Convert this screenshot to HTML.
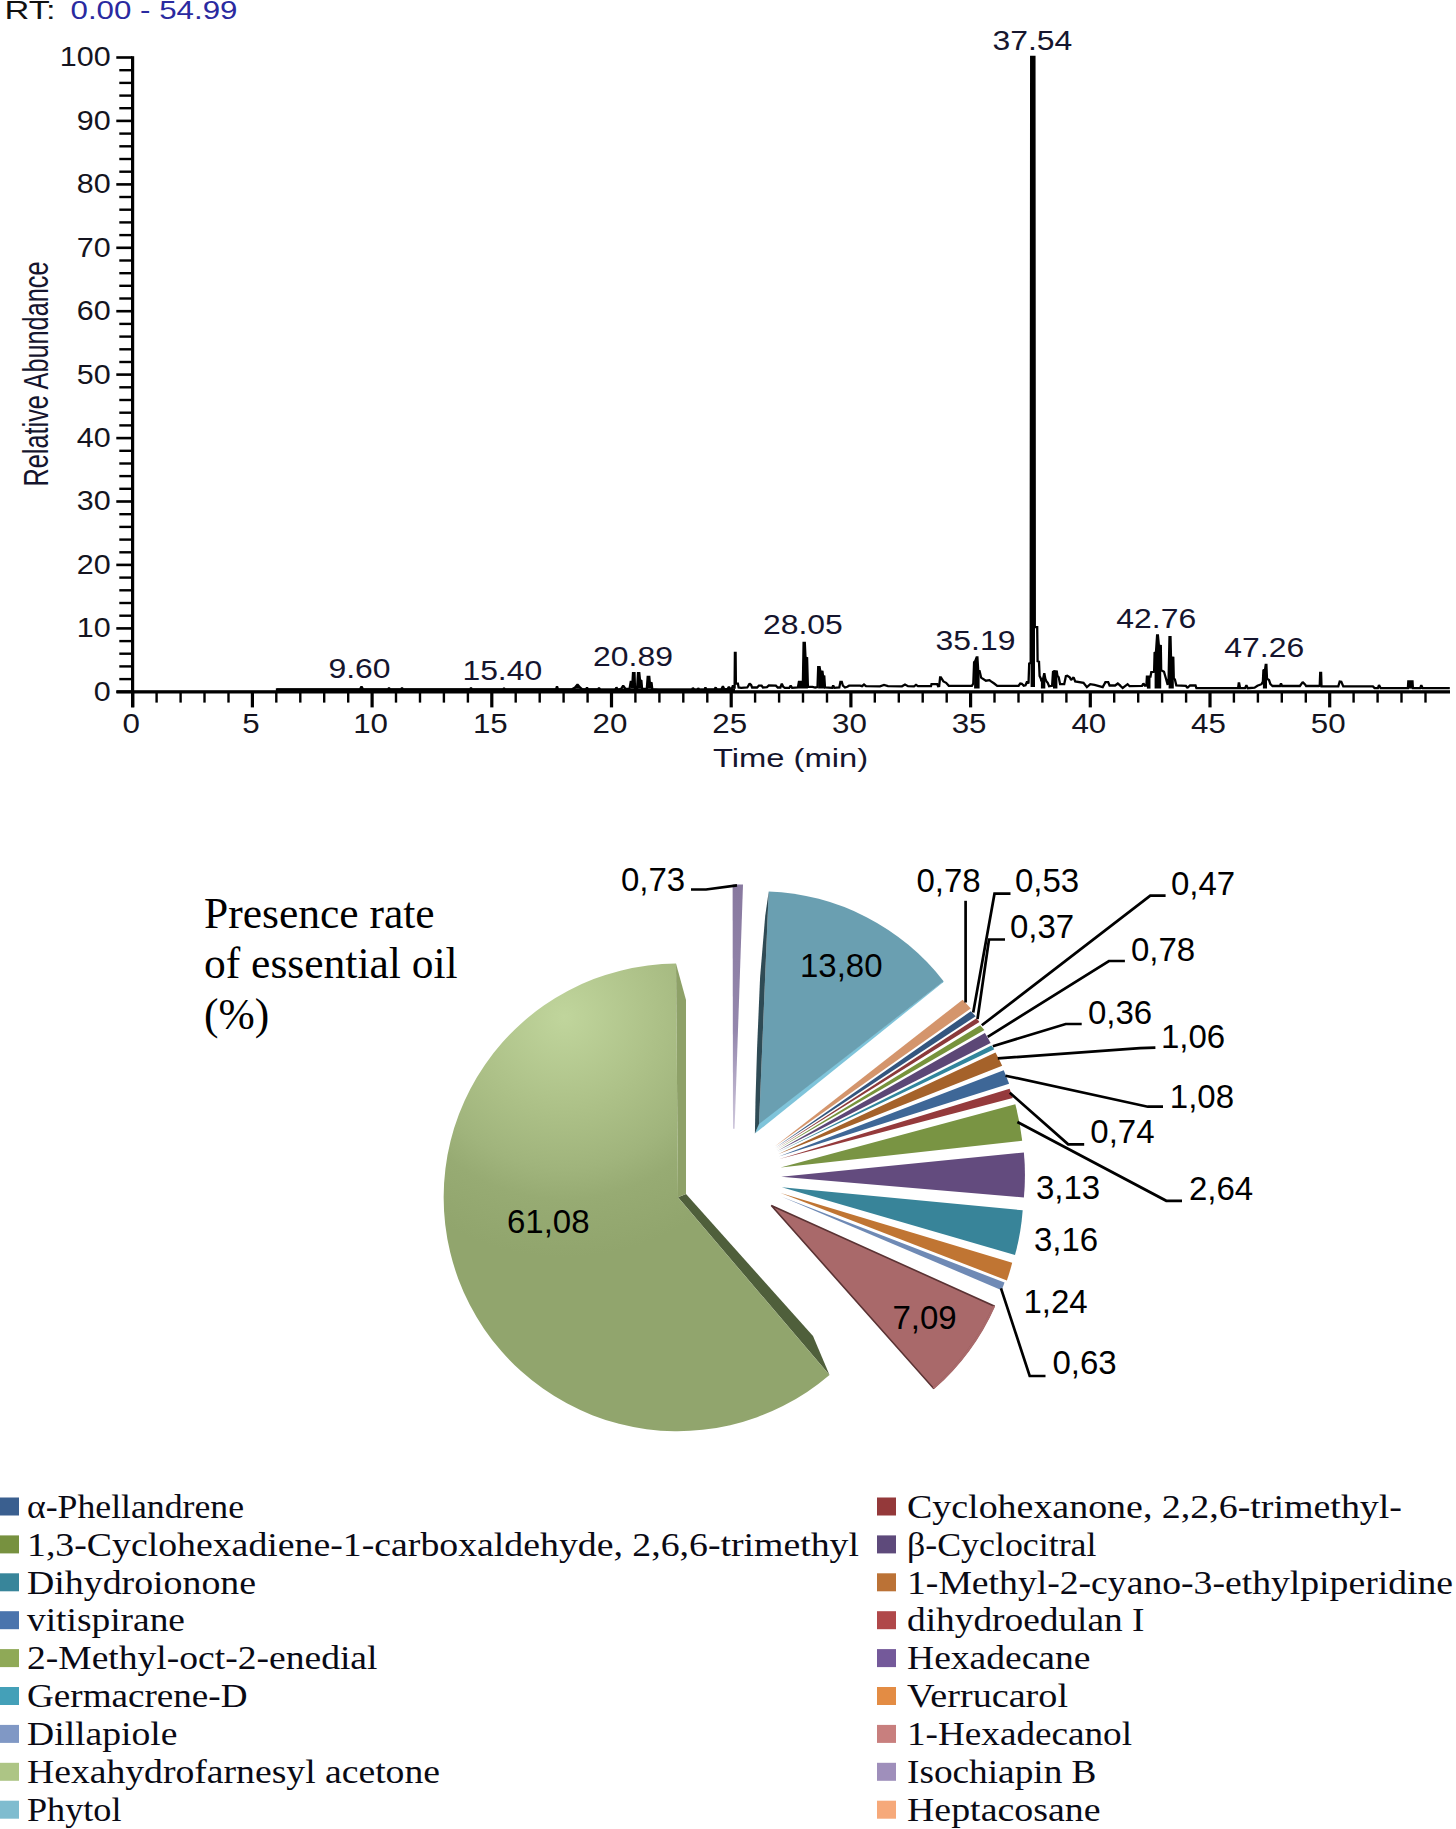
<!DOCTYPE html>
<html lang="en"><head><meta charset="utf-8"><title>GC-MS chromatogram and essential oil composition</title>
<style>
html,body{margin:0;padding:0;background:#fff;}
body{width:1456px;height:1829px;overflow:hidden;position:relative;}
svg{position:absolute;left:0;top:0;display:block;}
.ax{font-family:"Liberation Sans",sans-serif;font-size:27px;fill:#141420;}
.pk{font-family:"Liberation Sans",sans-serif;font-size:28.5px;fill:#15152e;}
.rt{font-family:"Liberation Sans",sans-serif;font-size:26px;}
.axt{font-family:"Liberation Sans",sans-serif;font-size:26px;fill:#15152e;}
.lg{font-family:"Liberation Serif",serif;font-size:33px;fill:#0a0a14;}
.pl{font-family:"Liberation Sans",sans-serif;font-size:33px;fill:#000;}
.ti{font-family:"Liberation Serif",serif;font-size:43.5px;fill:#000;}
</style></head><body>
<svg width="1456" height="1829" viewBox="0 0 1456 1829">
<rect x="131" y="56.2" width="3.2" height="651" fill="#000"/>
<rect x="116.5" y="690.2" width="1333.5" height="3.3" fill="#000"/>
<rect x="116.3" y="690.5" width="16" height="2.6" fill="#000"/>
<rect x="119.3" y="677.9" width="13" height="2.4" fill="#000"/>
<rect x="119.3" y="665.2" width="13" height="2.4" fill="#000"/>
<rect x="119.3" y="652.5" width="13" height="2.4" fill="#000"/>
<rect x="119.3" y="639.9" width="13" height="2.4" fill="#000"/>
<rect x="116.3" y="627.1" width="16" height="2.6" fill="#000"/>
<rect x="119.3" y="614.5" width="13" height="2.4" fill="#000"/>
<rect x="119.3" y="601.8" width="13" height="2.4" fill="#000"/>
<rect x="119.3" y="589.1" width="13" height="2.4" fill="#000"/>
<rect x="119.3" y="576.4" width="13" height="2.4" fill="#000"/>
<rect x="116.3" y="563.6" width="16" height="2.6" fill="#000"/>
<rect x="119.3" y="551.1" width="13" height="2.4" fill="#000"/>
<rect x="119.3" y="538.4" width="13" height="2.4" fill="#000"/>
<rect x="119.3" y="525.7" width="13" height="2.4" fill="#000"/>
<rect x="119.3" y="513.0" width="13" height="2.4" fill="#000"/>
<rect x="116.3" y="500.2" width="16" height="2.6" fill="#000"/>
<rect x="119.3" y="487.6" width="13" height="2.4" fill="#000"/>
<rect x="119.3" y="474.9" width="13" height="2.4" fill="#000"/>
<rect x="119.3" y="462.3" width="13" height="2.4" fill="#000"/>
<rect x="119.3" y="449.6" width="13" height="2.4" fill="#000"/>
<rect x="116.3" y="436.8" width="16" height="2.6" fill="#000"/>
<rect x="119.3" y="424.2" width="13" height="2.4" fill="#000"/>
<rect x="119.3" y="411.5" width="13" height="2.4" fill="#000"/>
<rect x="119.3" y="398.8" width="13" height="2.4" fill="#000"/>
<rect x="119.3" y="386.1" width="13" height="2.4" fill="#000"/>
<rect x="116.3" y="373.3" width="16" height="2.6" fill="#000"/>
<rect x="119.3" y="360.8" width="13" height="2.4" fill="#000"/>
<rect x="119.3" y="348.1" width="13" height="2.4" fill="#000"/>
<rect x="119.3" y="335.4" width="13" height="2.4" fill="#000"/>
<rect x="119.3" y="322.7" width="13" height="2.4" fill="#000"/>
<rect x="116.3" y="309.9" width="16" height="2.6" fill="#000"/>
<rect x="119.3" y="297.3" width="13" height="2.4" fill="#000"/>
<rect x="119.3" y="284.6" width="13" height="2.4" fill="#000"/>
<rect x="119.3" y="272.0" width="13" height="2.4" fill="#000"/>
<rect x="119.3" y="259.3" width="13" height="2.4" fill="#000"/>
<rect x="116.3" y="246.5" width="16" height="2.6" fill="#000"/>
<rect x="119.3" y="233.9" width="13" height="2.4" fill="#000"/>
<rect x="119.3" y="221.2" width="13" height="2.4" fill="#000"/>
<rect x="119.3" y="208.5" width="13" height="2.4" fill="#000"/>
<rect x="119.3" y="195.8" width="13" height="2.4" fill="#000"/>
<rect x="116.3" y="183.1" width="16" height="2.6" fill="#000"/>
<rect x="119.3" y="170.5" width="13" height="2.4" fill="#000"/>
<rect x="119.3" y="157.8" width="13" height="2.4" fill="#000"/>
<rect x="119.3" y="145.1" width="13" height="2.4" fill="#000"/>
<rect x="119.3" y="132.4" width="13" height="2.4" fill="#000"/>
<rect x="116.3" y="119.6" width="16" height="2.6" fill="#000"/>
<rect x="119.3" y="107.0" width="13" height="2.4" fill="#000"/>
<rect x="119.3" y="94.4" width="13" height="2.4" fill="#000"/>
<rect x="119.3" y="81.7" width="13" height="2.4" fill="#000"/>
<rect x="119.3" y="69.0" width="13" height="2.4" fill="#000"/>
<rect x="116.3" y="56.2" width="16" height="2.6" fill="#000"/>
<rect x="131.1" y="691" width="3.2" height="16.4" fill="#000"/>
<rect x="155.4" y="691" width="2.4" height="11.6" fill="#000"/>
<rect x="179.4" y="691" width="2.4" height="11.6" fill="#000"/>
<rect x="203.3" y="691" width="2.4" height="11.6" fill="#000"/>
<rect x="227.3" y="691" width="2.4" height="11.6" fill="#000"/>
<rect x="250.8" y="691" width="3.2" height="16.4" fill="#000"/>
<rect x="275.1" y="691" width="2.4" height="11.6" fill="#000"/>
<rect x="299.1" y="691" width="2.4" height="11.6" fill="#000"/>
<rect x="323.0" y="691" width="2.4" height="11.6" fill="#000"/>
<rect x="347.0" y="691" width="2.4" height="11.6" fill="#000"/>
<rect x="370.5" y="691" width="3.2" height="16.4" fill="#000"/>
<rect x="394.8" y="691" width="2.4" height="11.6" fill="#000"/>
<rect x="418.8" y="691" width="2.4" height="11.6" fill="#000"/>
<rect x="442.7" y="691" width="2.4" height="11.6" fill="#000"/>
<rect x="466.7" y="691" width="2.4" height="11.6" fill="#000"/>
<rect x="490.2" y="691" width="3.2" height="16.4" fill="#000"/>
<rect x="514.5" y="691" width="2.4" height="11.6" fill="#000"/>
<rect x="538.5" y="691" width="2.4" height="11.6" fill="#000"/>
<rect x="562.4" y="691" width="2.4" height="11.6" fill="#000"/>
<rect x="586.4" y="691" width="2.4" height="11.6" fill="#000"/>
<rect x="609.9" y="691" width="3.2" height="16.4" fill="#000"/>
<rect x="634.2" y="691" width="2.4" height="11.6" fill="#000"/>
<rect x="658.2" y="691" width="2.4" height="11.6" fill="#000"/>
<rect x="682.1" y="691" width="2.4" height="11.6" fill="#000"/>
<rect x="706.1" y="691" width="2.4" height="11.6" fill="#000"/>
<rect x="729.6" y="691" width="3.2" height="16.4" fill="#000"/>
<rect x="753.9" y="691" width="2.4" height="11.6" fill="#000"/>
<rect x="777.9" y="691" width="2.4" height="11.6" fill="#000"/>
<rect x="801.8" y="691" width="2.4" height="11.6" fill="#000"/>
<rect x="825.8" y="691" width="2.4" height="11.6" fill="#000"/>
<rect x="849.3" y="691" width="3.2" height="16.4" fill="#000"/>
<rect x="873.6" y="691" width="2.4" height="11.6" fill="#000"/>
<rect x="897.6" y="691" width="2.4" height="11.6" fill="#000"/>
<rect x="921.5" y="691" width="2.4" height="11.6" fill="#000"/>
<rect x="945.5" y="691" width="2.4" height="11.6" fill="#000"/>
<rect x="969.0" y="691" width="3.2" height="16.4" fill="#000"/>
<rect x="993.3" y="691" width="2.4" height="11.6" fill="#000"/>
<rect x="1017.3" y="691" width="2.4" height="11.6" fill="#000"/>
<rect x="1041.2" y="691" width="2.4" height="11.6" fill="#000"/>
<rect x="1065.2" y="691" width="2.4" height="11.6" fill="#000"/>
<rect x="1088.7" y="691" width="3.2" height="16.4" fill="#000"/>
<rect x="1113.0" y="691" width="2.4" height="11.6" fill="#000"/>
<rect x="1137.0" y="691" width="2.4" height="11.6" fill="#000"/>
<rect x="1160.9" y="691" width="2.4" height="11.6" fill="#000"/>
<rect x="1184.9" y="691" width="2.4" height="11.6" fill="#000"/>
<rect x="1208.4" y="691" width="3.2" height="16.4" fill="#000"/>
<rect x="1232.7" y="691" width="2.4" height="11.6" fill="#000"/>
<rect x="1256.7" y="691" width="2.4" height="11.6" fill="#000"/>
<rect x="1280.6" y="691" width="2.4" height="11.6" fill="#000"/>
<rect x="1304.6" y="691" width="2.4" height="11.6" fill="#000"/>
<rect x="1328.1" y="691" width="3.2" height="16.4" fill="#000"/>
<rect x="1352.4" y="691" width="2.4" height="11.6" fill="#000"/>
<rect x="1376.4" y="691" width="2.4" height="11.6" fill="#000"/>
<rect x="1400.3" y="691" width="2.4" height="11.6" fill="#000"/>
<rect x="1424.3" y="691" width="2.4" height="11.6" fill="#000"/>
<text transform="translate(110.6,700.7) scale(1.13,1)" text-anchor="end" class="ax">0</text>
<text transform="translate(110.6,637.3) scale(1.13,1)" text-anchor="end" class="ax">10</text>
<text transform="translate(110.6,573.8) scale(1.13,1)" text-anchor="end" class="ax">20</text>
<text transform="translate(110.6,510.4) scale(1.13,1)" text-anchor="end" class="ax">30</text>
<text transform="translate(110.6,447.0) scale(1.13,1)" text-anchor="end" class="ax">40</text>
<text transform="translate(110.6,383.5) scale(1.13,1)" text-anchor="end" class="ax">50</text>
<text transform="translate(110.6,320.1) scale(1.13,1)" text-anchor="end" class="ax">60</text>
<text transform="translate(110.6,256.7) scale(1.13,1)" text-anchor="end" class="ax">70</text>
<text transform="translate(110.6,193.3) scale(1.13,1)" text-anchor="end" class="ax">80</text>
<text transform="translate(110.6,129.8) scale(1.13,1)" text-anchor="end" class="ax">90</text>
<text transform="translate(110.6,66.4) scale(1.13,1)" text-anchor="end" class="ax">100</text>
<text transform="translate(131.2,733.3) scale(1.16,1)" text-anchor="middle" class="ax">0</text>
<text transform="translate(250.9,733.3) scale(1.16,1)" text-anchor="middle" class="ax">5</text>
<text transform="translate(370.6,733.3) scale(1.16,1)" text-anchor="middle" class="ax">10</text>
<text transform="translate(490.3,733.3) scale(1.16,1)" text-anchor="middle" class="ax">15</text>
<text transform="translate(610.0,733.3) scale(1.16,1)" text-anchor="middle" class="ax">20</text>
<text transform="translate(729.7,733.3) scale(1.16,1)" text-anchor="middle" class="ax">25</text>
<text transform="translate(849.4,733.3) scale(1.16,1)" text-anchor="middle" class="ax">30</text>
<text transform="translate(969.1,733.3) scale(1.16,1)" text-anchor="middle" class="ax">35</text>
<text transform="translate(1088.8,733.3) scale(1.16,1)" text-anchor="middle" class="ax">40</text>
<text transform="translate(1208.5,733.3) scale(1.16,1)" text-anchor="middle" class="ax">45</text>
<text transform="translate(1328.2,733.3) scale(1.16,1)" text-anchor="middle" class="ax">50</text>
<rect x="277" y="688.4" width="458" height="3.5" fill="#000"/>
<path d="M277.0,691.0 L277.0,689.4 L360.0,689.4 L361.5,686.6 L363.0,689.4 L388.0,689.4 L389.0,688.0 L390.0,689.4 L401.0,689.4 L402.0,688.0 L403.0,689.4 L470.0,689.4 L471.0,688.0 L472.0,689.4 L503.0,689.4 L504.0,688.2 L505.0,689.4 L556.0,689.4 L557.0,686.3 L558.0,689.4 L572.0,689.2 L575.0,687.5 L577.5,684.6 L580.0,687.5 L582.0,689.2 L586.0,689.3 L587.0,687.6 L588.0,689.3 L598.0,689.3 L599.0,687.8 L600.0,689.3 L600.0,689.8 L615.2,689.8 L616.4,687.5 L617.9,689.8 L621.1,688.9 L623.2,685.7 L625.4,688.6 L629.5,688.9 L630.7,681.8 L632.5,681.8 L633.0,673.2 L634.5,673.2 L635.0,688.9 L637.1,688.9 L638.0,673.2 L639.3,673.2 L640.0,680.0 L641.4,680.9 L642.1,688.9 L646.8,688.9 L647.7,676.8 L649.3,676.8 L649.8,682.7 L651.6,683.2 L652.3,689.3 L658.9,689.8 L692.0,689.8 L692.9,688.0 L694.3,689.8 L697.3,689.8 L698.2,688.2 L699.3,689.8 L704.5,689.8 L705.4,687.5 L706.4,689.6 L714.3,689.6 L715.7,687.5 L717.0,689.6 L721.4,689.3 L722.9,686.2 L724.3,689.3 L727.7,688.9 L728.9,686.8 L730.4,688.9 L732.1,688.0 L733.0,685.4 L733.9,687.5 L734.6,687.5 L734.9,652.9 L735.6,652.9 L735.9,683.6 L737.9,683.6 L738.6,687.5 L741.1,687.9 L747.3,687.5 L749.6,683.6 L751.1,685.0 L752.1,687.5 L757.1,687.5 L758.9,685.7 L761.6,685.7 L762.9,687.5 L767.0,687.1 L768.8,685.4 L775.9,685.7 L777.7,687.5 L780.4,687.5 L781.8,683.6 L783.2,686.8 L784.8,687.9 L789.3,687.9 L790.7,685.7 L792.1,687.9 L797.9,687.5 L798.9,681.8 L802.9,681.8 L803.6,642.9 L804.8,642.9 L805.5,657.7 L807.1,658.2 L807.9,686.8 L812.5,686.8 L815.2,687.5 L817.5,687.1 L818.2,667.1 L819.6,667.1 L820.4,671.4 L822.5,671.8 L823.0,676.1 L824.3,676.4 L825.0,687.5 L832.1,687.9 L833.2,685.4 L834.3,687.9 L839.3,687.5 L840.4,681.8 L841.8,681.8 L842.9,685.7 L845.0,687.5 L847.3,686.8 L849.1,685.7 L860.0,685.7 L862.0,686.2 L864.0,684.5 L866.0,686.2 L880.0,686.3 L884.0,685.0 L888.0,686.2 L902.0,686.3 L905.0,684.6 L908.0,686.2 L914.0,686.3 L916.0,684.8 L918.0,686.2 L920.0,686.2 L931.0,686.2 L931.5,684.2 L937.2,684.2 L938.1,686.2 L939.2,686.0 L940.1,677.3 L940.9,677.3 L943.4,681.4 L946.1,682.8 L948.8,685.8 L971.9,685.8 L973.3,683.5 L974.1,662.2 L975.2,661.1 L976.6,657.4 L977.4,657.4 L978.2,670.4 L979.6,671.1 L981.1,677.6 L985.9,680.7 L989.4,680.1 L990.7,681.2 L994.2,683.5 L997.2,685.8 L1018.6,685.8 L1020.3,683.5 L1021.9,683.8 L1023.7,685.8 L1025.5,685.3 L1027.1,681.4 L1028.5,683.5 L1029.2,663.6 L1030.7,662.9 L1031.2,57.0 L1034.4,57.0 L1034.8,627.2 L1037.2,627.2 L1037.6,661.1 L1039.0,661.6 L1039.6,675.9 L1040.9,678.7 L1041.4,681.4 L1043.1,678.7 L1044.3,673.2 L1045.3,678.7 L1046.4,681.4 L1047.7,682.8 L1049.1,686.2 L1052.1,685.8 L1053.0,671.8 L1054.1,671.1 L1056.8,671.5 L1057.4,675.9 L1058.7,677.3 L1060.1,684.2 L1064.2,684.2 L1065.9,676.2 L1067.3,675.7 L1069.7,677.3 L1071.1,680.1 L1073.6,677.3 L1075.2,681.4 L1083.5,682.8 L1086.9,687.2 L1090.3,684.2 L1094.5,684.9 L1102.7,687.2 L1105.4,682.1 L1108.2,682.1 L1109.6,685.5 L1115.1,685.5 L1117.8,683.5 L1120.0,685.3 L1120.0,685.5 L1122.7,687.9 L1127.6,684.2 L1129.6,686.2 L1142.0,685.8 L1143.4,683.5 L1144.7,685.5 L1146.4,685.5 L1146.9,676.6 L1150.5,676.6 L1151.3,672.1 L1154.1,671.8 L1154.6,652.9 L1156.0,651.9 L1157.1,635.4 L1157.9,635.4 L1158.9,645.7 L1160.8,646.0 L1161.2,670.4 L1164.0,671.8 L1166.0,678.7 L1167.7,684.9 L1168.6,678.7 L1169.5,637.2 L1170.5,637.2 L1171.0,657.4 L1173.3,657.8 L1173.8,678.7 L1174.9,679.4 L1176.3,685.3 L1185.9,685.8 L1187.3,687.9 L1190.1,685.5 L1195.5,685.5 L1196.4,688.2 L1238.1,688.2 L1238.7,683.5 L1239.2,683.5 L1240.1,688.2 L1245.0,688.2 L1246.4,685.3 L1247.7,688.2 L1254.6,687.7 L1257.4,685.8 L1261.5,684.2 L1262.9,681.4 L1263.4,670.4 L1265.1,669.3 L1265.7,664.9 L1266.4,664.9 L1267.0,678.7 L1269.0,680.1 L1270.4,684.2 L1272.5,686.0 L1280.0,686.0 L1281.0,683.5 L1282.1,686.0 L1299.9,686.0 L1302.7,682.1 L1304.8,684.2 L1306.1,686.0 L1319.2,686.0 L1319.7,686.4 L1320.2,673.0 L1321.1,673.0 L1321.5,686.4 L1338.3,686.4 L1339.7,681.5 L1341.3,681.8 L1343.3,686.4 L1372.9,686.4 L1374.6,688.1 L1377.9,688.1 L1379.0,685.1 L1380.6,688.1 L1407.9,688.1 L1408.3,681.5 L1412.5,681.5 L1412.9,688.1 L1420.2,688.1 L1421.3,685.1 L1422.6,688.1 L1449.8,688.1" fill="none" stroke="#000" stroke-width="2.3" stroke-linejoin="miter" stroke-miterlimit="1.5"/>
<rect x="1030.6" y="56" width="4.4" height="631" fill="#000"/>
<polygon points="575.0,688.6 575.0,687.5 577.5,684.6 580.0,687.5 582.0,689.2 582.0,688.6" fill="#000"/>
<polygon points="630.7,688.6 630.7,681.8 632.5,681.8 633.0,673.2 634.5,673.2 635.0,688.9 635.0,688.6" fill="#000"/>
<polygon points="638.0,688.6 638.0,673.2 639.3,673.2 640.0,680.0 641.4,680.9 642.1,688.9 642.1,688.6" fill="#000"/>
<polygon points="647.7,688.6 647.7,676.8 649.3,676.8 649.8,682.7 651.6,683.2 652.3,689.3 652.3,688.6" fill="#000"/>
<polygon points="798.9,688.6 798.9,681.8 802.9,681.8 803.6,642.9 804.8,642.9 805.5,657.7 807.1,658.2 807.9,686.8 807.9,688.6" fill="#000"/>
<polygon points="818.2,688.6 818.2,667.1 819.6,667.1 820.4,671.4 822.5,671.8 823.0,676.1 824.3,676.4 825.0,687.5 825.0,688.6" fill="#000"/>
<polygon points="974.1,688.6 974.1,662.2 975.2,661.1 976.6,657.4 977.4,657.4 978.2,670.4 979.6,671.1 979.6,688.6" fill="#000"/>
<polygon points="1040.9,688.6 1040.9,678.7 1041.4,681.4 1043.1,678.7 1044.3,673.2 1045.3,678.7 1045.3,688.6" fill="#000"/>
<polygon points="1053.0,688.6 1053.0,671.8 1054.1,671.1 1056.8,671.5 1057.4,675.9 1057.4,688.6" fill="#000"/>
<polygon points="1146.9,688.6 1146.9,676.6 1150.5,676.6 1150.5,688.6" fill="#000"/>
<polygon points="1154.6,688.6 1154.6,652.9 1156.0,651.9 1157.1,635.4 1157.9,635.4 1158.9,645.7 1160.8,646.0 1161.2,670.4 1161.2,688.6" fill="#000"/>
<polygon points="1168.6,688.6 1168.6,678.7 1169.5,637.2 1170.5,637.2 1171.0,657.4 1173.3,657.8 1173.8,678.7 1173.8,688.6" fill="#000"/>
<polygon points="1262.9,688.6 1262.9,681.4 1263.4,670.4 1265.1,669.3 1265.7,664.9 1266.4,664.9 1267.0,678.7 1267.0,688.6" fill="#000"/>
<polygon points="1408.3,688.6 1408.3,681.5 1412.5,681.5 1412.5,688.6" fill="#000"/>
<text transform="translate(1032.4,49.7) scale(1.12,1)" text-anchor="middle" class="pk">37.54</text>
<text transform="translate(359.5,677.7) scale(1.12,1)" text-anchor="middle" class="pk">9.60</text>
<text transform="translate(502.3,680.2) scale(1.12,1)" text-anchor="middle" class="pk">15.40</text>
<text transform="translate(633,665.7) scale(1.12,1)" text-anchor="middle" class="pk">20.89</text>
<text transform="translate(802.9,633.5) scale(1.12,1)" text-anchor="middle" class="pk">28.05</text>
<text transform="translate(975.5,650.0) scale(1.12,1)" text-anchor="middle" class="pk">35.19</text>
<text transform="translate(1156.2,628.0) scale(1.12,1)" text-anchor="middle" class="pk">42.76</text>
<text transform="translate(1264.2,656.5) scale(1.12,1)" text-anchor="middle" class="pk">47.26</text>
<text x="4.5" y="19.3" class="rt" fill="#111" textLength="51" lengthAdjust="spacingAndGlyphs">RT:</text>
<text x="70.5" y="19.3" class="rt" fill="#2a2aa0" textLength="167" lengthAdjust="spacingAndGlyphs">0.00 - 54.99</text>
<text transform="translate(47.6,374) scale(1.33,1) rotate(-90)" text-anchor="middle" class="axt" textLength="225" lengthAdjust="spacingAndGlyphs">Relative Abundance</text>
<text transform="translate(790.5,766.9) scale(1.26,1)" text-anchor="middle" class="axt">Time (min)</text>
<defs>
<radialGradient id="gGreen" gradientUnits="userSpaceOnUse" cx="564" cy="1017" r="240">
<stop offset="0" stop-color="#c0d59c"/><stop offset="0.4" stop-color="#acc087"/><stop offset="0.63" stop-color="#a0b47c"/><stop offset="0.76" stop-color="#97ab73"/><stop offset="1" stop-color="#91a56d"/></radialGradient>
<linearGradient id="gIso" gradientUnits="userSpaceOnUse" x1="737" y1="885" x2="734" y2="1128">
<stop offset="0" stop-color="#88799f"/><stop offset="0.6" stop-color="#9487ad"/><stop offset="1" stop-color="#cfc8dc"/></linearGradient>
</defs>
<polygon points="678.0,1197.3 686.0,1194.0 813.0,1336.0 829.5,1375.0" fill="#4f5f3b" />
<path d="M678,1197.3 L829.5,1375 A233.8,233.8 0 1 1 676,963.6 Z" fill="url(#gGreen)"/>
<polygon points="676.0,963.6 686.0,1000.0 686.0,1194.0 678.0,1197.3" fill="#8ea168" />
<polygon points="732.6,884.5 743.0,884.5 734.6,1128.8 733.0,1128.8" fill="url(#gIso)" />
<polygon points="754.9,1133.6 759.0,1123.0 943.6,981.0 943.2,982.2" fill="#7fc4da" />
<path d="M759,1124 L768.7,891.4 A233,233 0 0 1 943.6,981.2 Z" fill="#6a9fb1"/>
<path d="M768.7,891.4 L759,1124 L754.9,1133.6 L755.5,1100 L757,1050 L760.1,977 L765.2,916 Z" fill="#2f4b55"/>
<path d="M774.4,1146.8 L962.6,999.7 Q966.8,1004.0 970.8,1008.4 Z" fill="#d4956c"/>
<path d="M775.0,1148.0 L970.8,1011.3 Q973.3,1013.8 975.7,1016.3 Z" fill="#34567f"/>
<path d="M775.6,1149.0 L976.5,1018.3 Q978.0,1020.1 979.4,1022.0 Z" fill="#8b3a3b"/>
<path d="M776.2,1150.0 L980.2,1025.2 Q982.3,1027.6 984.4,1030.1 Z" fill="#77933c"/>
<path d="M776.8,1151.2 L984.9,1033.1 Q987.9,1038.0 990.6,1043.0 Z" fill="#5c4776"/>
<path d="M777.4,1152.6 L991.3,1045.5 Q992.8,1047.3 994.3,1049.2 Z" fill="#31859c"/>
<path d="M778.0,1154.2 L995.5,1052.4 Q999.1,1059.0 1002.2,1065.7 Z" fill="#a5622a"/>
<path d="M778.8,1156.5 L1003.7,1070.2 Q1006.6,1076.9 1009.1,1083.8 Z" fill="#3e6797"/>
<path d="M779.5,1159.0 L1009.6,1088.7 Q1011.3,1093.3 1012.8,1097.9 Z" fill="#953a3c"/>
<path d="M780.6,1167.5 L1015.3,1104.3 Q1020.1,1122.2 1022.2,1140.7 Z" fill="#799443"/>
<path d="M781.2,1176.7 L1023.9,1152.5 Q1026.0,1175.0 1023.9,1197.5 Z" fill="#634b7e"/>
<path d="M781.8,1187.3 L1022.7,1210.3 Q1021.0,1233.1 1015.0,1255.1 Z" fill="#388499"/>
<path d="M780.6,1193.1 L1012.2,1262.8 Q1009.9,1271.7 1006.9,1280.4 Z" fill="#c07533"/>
<path d="M781.8,1196.8 L1004.5,1282.5 Q1003.2,1286.4 1001.7,1290.2 Z" fill="#6f8ab5"/>
<path d="M771.3,1205.5 L994,1305.9 A243,240 0 0 1 933.4,1388.2 Z" fill="#a9696a" stroke="#5a3233" stroke-width="1.6" stroke-linejoin="miter"/>
<path d="M994,1305.9 A243,240 0 0 1 933.4,1388.2" fill="none" stroke="#a9696a" stroke-width="2.4"/>
<polyline points="965.6,900.8 965.6,1002.5" fill="none" stroke="#000" stroke-width="2.7"/>
<polyline points="1010.5,893.7 994.5,893.7 973.2,1012.6" fill="none" stroke="#000" stroke-width="2.7"/>
<polyline points="1005.0,939.5 989.0,939.5 977.5,1019.0" fill="none" stroke="#000" stroke-width="2.7"/>
<polyline points="1165.6,895.7 1150.3,895.7 981.8,1025.3" fill="none" stroke="#000" stroke-width="2.7"/>
<polyline points="1124.9,961.0 1108.9,961.0 987.7,1036.8" fill="none" stroke="#000" stroke-width="2.7"/>
<polyline points="1081.7,1024.0 1065.7,1024.0 992.8,1046.2" fill="none" stroke="#000" stroke-width="2.7"/>
<polyline points="1155.4,1047.7 1140.0,1048.2 997.8,1058.4" fill="none" stroke="#000" stroke-width="2.7"/>
<polyline points="1163.0,1106.7 1147.8,1106.7 1005.5,1075.7" fill="none" stroke="#000" stroke-width="2.7"/>
<polyline points="1084.2,1144.3 1068.2,1144.3 1009.8,1092.7" fill="none" stroke="#000" stroke-width="2.7"/>
<polyline points="1182.0,1200.8 1166.3,1200.8 1017.4,1122.0" fill="none" stroke="#000" stroke-width="2.7"/>
<polyline points="1045.5,1376.0 1029.7,1376.0 1001.0,1288.4" fill="none" stroke="#000" stroke-width="2.7"/>
<polyline points="691.0,889.5 706.0,889.5 737.0,885.3" fill="none" stroke="#000" stroke-width="2.7"/>
<text x="621" y="891.0" class="pl">0,73</text>
<text x="916.5" y="892.2" class="pl">0,78</text>
<text x="1015" y="891.5" class="pl">0,53</text>
<text x="1010" y="938.0" class="pl">0,37</text>
<text x="1171" y="895.0" class="pl">0,47</text>
<text x="1131" y="960.5" class="pl">0,78</text>
<text x="1088" y="1023.5" class="pl">0,36</text>
<text x="1161" y="1047.5" class="pl">1,06</text>
<text x="1169.8" y="1107.8" class="pl">1,08</text>
<text x="1090.3" y="1142.8" class="pl">0,74</text>
<text x="1189" y="1199.9" class="pl">2,64</text>
<text x="1036" y="1198.8" class="pl">3,13</text>
<text x="1033.9" y="1251.4" class="pl">3,16</text>
<text x="1023.4" y="1312.7" class="pl">1,24</text>
<text x="1052.5" y="1374.0" class="pl">0,63</text>
<text x="892.4" y="1328.5" class="pl">7,09</text>
<text x="800" y="976.5" class="pl">13,80</text>
<text x="507" y="1232.5" class="pl">61,08</text>
<text x="204" y="927.6" class="ti">Presence rate</text>
<text x="204" y="978.2" class="ti">of essential oil</text>
<text x="204" y="1028.8" class="ti">(%)</text>
<rect x="0" y="1497.5" width="19" height="18" fill="#3a5f8f"/>
<text x="27" y="1517.7" class="lg" textLength="217.0" lengthAdjust="spacingAndGlyphs">α-Phellandrene</text>
<rect x="0" y="1535.4" width="19" height="18" fill="#77913f"/>
<text x="27" y="1555.6" class="lg" textLength="832.0" lengthAdjust="spacingAndGlyphs">1,3-Cyclohexadiene-1-carboxaldehyde, 2,6,6-trimethyl</text>
<rect x="0" y="1573.3" width="19" height="18" fill="#38859a"/>
<text x="27" y="1593.5" class="lg" textLength="229.0" lengthAdjust="spacingAndGlyphs">Dihydroionone</text>
<rect x="0" y="1611.2" width="19" height="18" fill="#4a74ad"/>
<text x="27" y="1631.4" class="lg" textLength="158.0" lengthAdjust="spacingAndGlyphs">vitispirane</text>
<rect x="0" y="1649.1" width="19" height="18" fill="#8fa957"/>
<text x="27" y="1669.3" class="lg" textLength="350.5" lengthAdjust="spacingAndGlyphs">2-Methyl-oct-2-enedial</text>
<rect x="0" y="1687.0" width="19" height="18" fill="#44a0b8"/>
<text x="27" y="1707.2" class="lg" textLength="220.5" lengthAdjust="spacingAndGlyphs">Germacrene-D</text>
<rect x="0" y="1724.9" width="19" height="18" fill="#8098c5"/>
<text x="27" y="1745.1" class="lg" textLength="150.5" lengthAdjust="spacingAndGlyphs">Dillapiole</text>
<rect x="0" y="1762.8" width="19" height="18" fill="#adc585"/>
<text x="27" y="1783.0" class="lg" textLength="413.0" lengthAdjust="spacingAndGlyphs">Hexahydrofarnesyl acetone</text>
<rect x="0" y="1800.7" width="19" height="18" fill="#7fbccf"/>
<text x="27" y="1820.9" class="lg" textLength="94.5" lengthAdjust="spacingAndGlyphs">Phytol</text>
<rect x="877" y="1497.5" width="19" height="18" fill="#94393a"/>
<text x="907" y="1517.7" class="lg" textLength="495.0" lengthAdjust="spacingAndGlyphs">Cyclohexanone, 2,2,6-trimethyl-</text>
<rect x="877" y="1535.4" width="19" height="18" fill="#5e4a7b"/>
<text x="907" y="1555.6" class="lg" textLength="189.5" lengthAdjust="spacingAndGlyphs">β-Cyclocitral</text>
<rect x="877" y="1573.3" width="19" height="18" fill="#bb7236"/>
<text x="907" y="1593.5" class="lg" textLength="546.0" lengthAdjust="spacingAndGlyphs">1-Methyl-2-cyano-3-ethylpiperidine</text>
<rect x="877" y="1611.2" width="19" height="18" fill="#b0484a"/>
<text x="907" y="1631.4" class="lg" textLength="237.5" lengthAdjust="spacingAndGlyphs">dihydroedulan I</text>
<rect x="877" y="1649.1" width="19" height="18" fill="#74599a"/>
<text x="907" y="1669.3" class="lg" textLength="183.5" lengthAdjust="spacingAndGlyphs">Hexadecane</text>
<rect x="877" y="1687.0" width="19" height="18" fill="#e38c44"/>
<text x="907" y="1707.2" class="lg" textLength="161.0" lengthAdjust="spacingAndGlyphs">Verrucarol</text>
<rect x="877" y="1724.9" width="19" height="18" fill="#c87f7e"/>
<text x="907" y="1745.1" class="lg" textLength="225.0" lengthAdjust="spacingAndGlyphs">1-Hexadecanol</text>
<rect x="877" y="1762.8" width="19" height="18" fill="#9f8fbb"/>
<text x="907" y="1783.0" class="lg" textLength="189.5" lengthAdjust="spacingAndGlyphs">Isochiapin B</text>
<rect x="877" y="1800.7" width="19" height="18" fill="#f6a97a"/>
<text x="907" y="1820.9" class="lg" textLength="193.5" lengthAdjust="spacingAndGlyphs">Heptacosane</text>
</svg>
</body></html>
